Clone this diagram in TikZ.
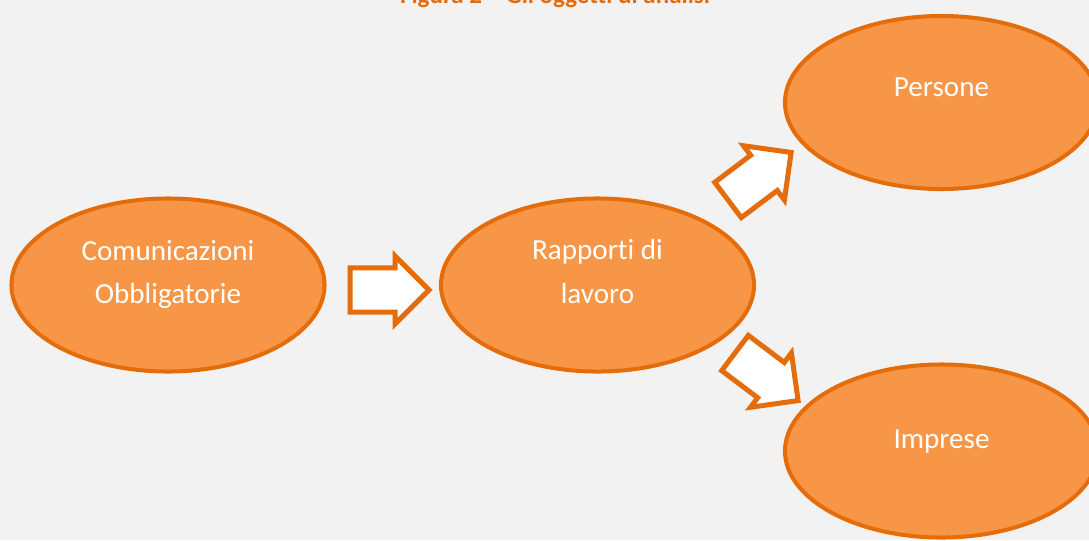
\documentclass[tikz,border=0pt]{standalone}
\usepackage{fontspec}
\setmainfont{Carlito}[Ligatures=NoCommon]
\usepackage{tikz}
\usetikzlibrary{positioning, shapes.geometric, shapes.arrows}
\definecolor{ofill}{HTML}{F79646}
\definecolor{oline}{HTML}{E46C0A}
\definecolor{bgcol}{HTML}{F2F2F2}

\begin{document}
\begin{tikzpicture}[
        x=0.025cm, y=-0.025cm,
        blob/.style={ellipse,draw=oline,fill=ofill,line width=0.1cm,
          minimum width=7.825cm,minimum height=4.325cm},
        lbl/.style={text=white,align=center,font=\fontsize{20.7}{31}\selectfont},
        barrow/.style={single arrow,draw=oline,fill=white,line width=0.125cm,
          minimum height=1.975cm,minimum width=1.7cm,
          inner xsep=0pt,inner ysep=0.4cm,anchor=tail}
      ]
      \clip (0,0) rectangle (1089,540);
      \fill[bgcol] (0,0) rectangle (1089,540);
      \node[text=oline,anchor=base,font=\fontsize{17.8}{21}\selectfont\bfseries]
        (title) at (555,3.5) {Figura 2 – Gli oggetti di analisi};
      \node[blob] (com) at (168,285) {};
      \node[blob] (rap) at (597.5,285) {};
      \node[blob] (pers) at (941.5,102.5) {};
      \node[blob] (impr) at (941.5,451) {};
      \node[lbl] (comtxt) at (168,274.5) {Comunicazioni\\Obbligatorie};
      \node[lbl] (raptxt) at (597.5,271.5) {Rapporti di\\lavoro};
      \node[lbl] (perstxt) at (941.5,87.5) {Persone};
      \node[lbl] (imprtxt) at (941.5,441) {Imprese};
      \node[barrow] (a1) at (347.5,290) {};
      \node[barrow,rotate=37] (a2) at (726,201.5) {};
      \node[barrow,rotate=-37] (a3) at (733,351.5) {};
    \end{tikzpicture}
\end{document}
